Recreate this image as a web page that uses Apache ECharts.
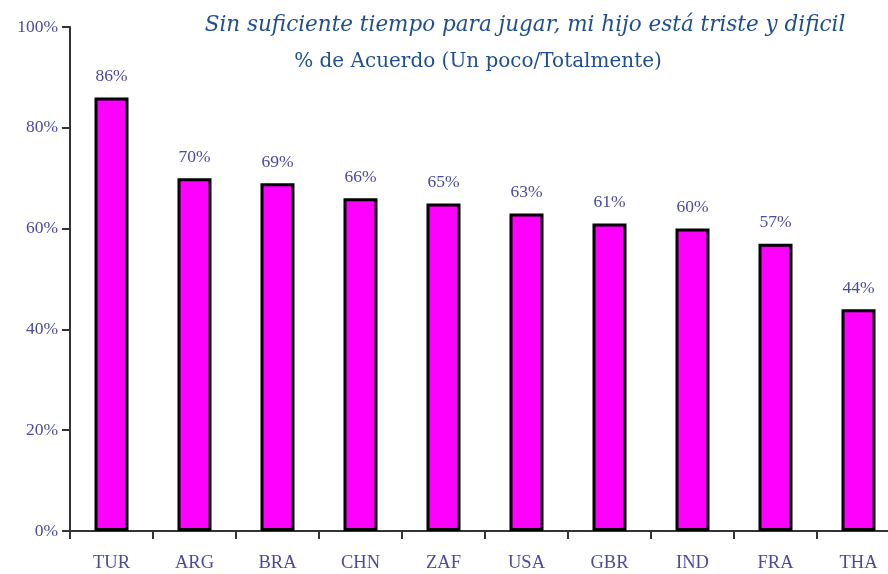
<!DOCTYPE html>
<html><head><meta charset="utf-8">
<script src="https://cdn.jsdelivr.net/npm/echarts@6/dist/echarts.min.js"></script>
<style>html,body{margin:0;padding:0;background:#fff}#c{width:888px;height:574px}</style>
</head><body><div id="c"></div>
<script>
const categories = ["TUR","ARG","BRA","CHN","ZAF","USA","GBR","IND","FRA","THA"];
const values = [86,70,69,66,65,63,61,60,57,44];
const yTicks = [0,20,40,60,80,100];
const titleText = "Sin suficiente tiempo para jugar, mi hijo está triste y dificil";
const subtitleText = "% de Acuerdo (Un poco/Totalmente)";

const labelColor = "#4a4aa0";
const chart = echarts.init(document.getElementById('c'), null, {renderer:'canvas'});
chart.setOption({
  backgroundColor:'#fff',
  animation:false,
  title:[
    {text:titleText, left:520, top:9, textAlign:'center',
     textStyle:{fontFamily:'DejaVu Serif', fontStyle:'italic', fontWeight:'normal', fontSize:21.5, color:'#1f4f8f'}},
    {text:subtitleText, left:473, top:47, textAlign:'center',
     textStyle:{fontFamily:'DejaVu Serif', fontWeight:'normal', fontSize:20, color:'#1f4f8f'}}
  ],
  grid:{left:70, top:27, right:-12, bottom:43, containLabel:false, outerBoundsMode:'none'},
  xAxis:{type:'category', data:categories,
    axisLine:{lineStyle:{color:'#333', width:2}},
    axisTick:{show:true, alignWithLabel:false, length:8, lineStyle:{color:'#333', width:2}},
    axisLabel:{color:labelColor, fontFamily:'Liberation Serif', fontSize:18.5, margin:23}
  },
  yAxis:{type:'value', min:0, max:100, interval:20,
    axisLine:{show:true, lineStyle:{color:'#333', width:2}},
    axisTick:{show:true, length:8, lineStyle:{color:'#333', width:2}},
    splitLine:{show:false},
    axisLabel:{color:labelColor, fontFamily:'Liberation Serif', fontSize:17.5, margin:12,
      formatter:v=> yTicks.includes(v) ? v+'%' : ''}
  },
  series:[{type:'bar', data:values, barWidth:34,
    itemStyle:{color:'#ff00ff', borderColor:'#000', borderWidth:3},
    label:{show:true, position:'top', distance:12, formatter:p=>p.value+'%',
      color:labelColor, fontFamily:'Liberation Serif', fontSize:17.5}
  }]
});
</script></body></html>
